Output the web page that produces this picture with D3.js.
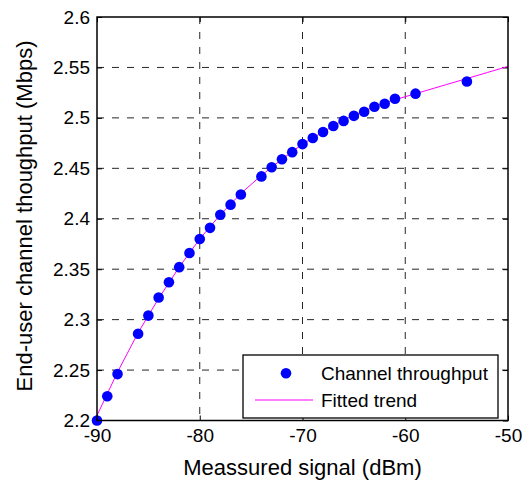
<!DOCTYPE html>
<html>
<head>
<meta charset="utf-8">
<script src="https://cdn.jsdelivr.net/npm/d3@7/dist/d3.min.js"></script>
<style>
  html, body { margin: 0; padding: 0; background: #fff; }
  svg { display: block; font-family: "Liberation Sans", Arial, sans-serif; }
</style>
</head>
<body>
<svg id="chart" width="526" height="485"></svg>
<script>
// Measured throughput per signal level
const signalDbm = [-90, -89, -88, -86, -85, -84, -83, -82, -81, -80,
                   -79, -78, -77, -76, -74, -73, -72, -71, -70, -69,
                   -68, -67, -66, -65, -64, -63, -62, -61, -59, -54];
const throughputMbps = [2.200, 2.224, 2.246, 2.286, 2.304, 2.322, 2.337, 2.352, 2.366, 2.380,
                        2.391, 2.404, 2.414, 2.424, 2.442, 2.451, 2.459, 2.466, 2.474, 2.480,
                        2.486, 2.492, 2.497, 2.502, 2.506, 2.511, 2.514, 2.519, 2.524, 2.536];

// Fitted trend curve samples
const fitDbm = [-90, -88, -86, -84, -82, -80, -78, -76, -74, -72, -70,
                -68, -66, -64, -62, -60, -58, -56, -54, -52, -50];
const fitMbps = [2.205, 2.248, 2.287, 2.321, 2.352, 2.380, 2.404, 2.425, 2.443, 2.459, 2.474,
                 2.486, 2.498, 2.507, 2.515, 2.521, 2.527, 2.533, 2.539, 2.545, 2.551];

const xTicks = [-90, -80, -70, -60, -50];
const yTicks = [2.2, 2.25, 2.3, 2.35, 2.4, 2.45, 2.5, 2.55, 2.6];
const legendLabels = ["Channel throughput", "Fitted trend"];

const svg = d3.select("#chart");
const plotL = 97, plotR = 508, plotT = 17, plotB = 420.5;

const x = d3.scaleLinear().domain([-90, -50]).range([plotL, plotR]);
const y = d3.scaleLinear().domain([2.2, 2.6]).range([plotB, plotT]);

// dashed grid
const grid = svg.append("g").attr("stroke", "#262626").attr("stroke-width", 1)
  .attr("stroke-dasharray", "7,8").attr("fill", "none");
grid.selectAll("line.v").data(xTicks.slice(1, -1)).join("line").attr("class", "v")
  .attr("x1", d => x(d)).attr("x2", d => x(d)).attr("y1", plotT).attr("y2", plotB);
grid.selectAll("line.h").data(yTicks.slice(1, -1)).join("line").attr("class", "h")
  .attr("x1", plotL).attr("x2", plotR).attr("y1", d => y(d)).attr("y2", d => y(d));

// axes with inward ticks and labels
const fmtY = d => String(+d.toFixed(2));
const yAxis = d3.axisLeft(y).tickValues(yTicks).tickSize(-5).tickPadding(12).tickFormat(fmtY);
const xAxis = d3.axisBottom(x).tickValues(xTicks).tickSize(-5).tickPadding(12).tickFormat(d => d);
const yAxisR = d3.axisRight(y).tickValues(yTicks).tickSize(-5).tickFormat("");
const xAxisT = d3.axisTop(x).tickValues(xTicks).tickSize(-5).tickFormat("");

function styleAxis(g) {
  g.select(".domain").remove();
  g.selectAll(".tick line").attr("stroke", "#000").attr("stroke-width", 1);
  g.selectAll(".tick text").attr("fill", "#000").style("font-size", "19px")
    .style("font-family", "'Liberation Sans', Arial, sans-serif");
}
svg.append("g").attr("transform", `translate(${plotL},0)`).call(yAxis).call(styleAxis)
  .selectAll(".tick text").attr("x", -7);
svg.append("g").attr("transform", `translate(0,${plotB})`).call(xAxis).call(styleAxis)
  .selectAll(".tick text").attr("dy", "0.71em").attr("y", 8);
svg.append("g").attr("transform", `translate(${plotR},0)`).call(yAxisR).call(styleAxis);
svg.append("g").attr("transform", `translate(0,${plotT})`).call(xAxisT).call(styleAxis);

// fitted trend
const line = d3.line().x((d, i) => x(fitDbm[i])).y(d => y(d));
svg.append("path").datum(fitMbps).attr("d", line)
  .attr("fill", "none").attr("stroke", "#ff00ff").attr("stroke-width", 1);

// measured points
svg.append("g").selectAll("circle").data(throughputMbps).join("circle")
  .attr("cx", (d, i) => x(signalDbm[i])).attr("cy", d => y(d))
  .attr("r", 5.3).attr("fill", "#0000ff");

// frame
svg.append("rect").attr("x", plotL).attr("y", plotT)
  .attr("width", plotR - plotL).attr("height", plotB - plotT)
  .attr("fill", "none").attr("stroke", "#000").attr("stroke-width", 1.5);

// axis titles
svg.append("text").attr("x", (plotL + plotR) / 2).attr("y", 475)
  .attr("text-anchor", "middle").style("font-size", "22px").attr("fill", "#000")
  .text("Meassured signal (dBm)");
svg.append("text").attr("transform", "translate(32,216) rotate(-90)")
  .attr("text-anchor", "middle").style("font-size", "22px").attr("fill", "#000")
  .text("End-user channel thoughput (Mbps)");

// legend
const lg = svg.append("g");
lg.append("rect").attr("x", 243).attr("y", 355).attr("width", 255).attr("height", 63)
  .attr("fill", "#fff").attr("stroke", "#000").attr("stroke-width", 1.3);
lg.append("circle").attr("cx", 286).attr("cy", 373.3).attr("r", 5.3).attr("fill", "#0000ff");
lg.append("line").attr("x1", 255).attr("x2", 313).attr("y1", 400).attr("y2", 400)
  .attr("stroke", "#ff00ff").attr("stroke-width", 1);
lg.selectAll("text").data(legendLabels).join("text")
  .attr("x", 321).attr("y", (d, i) => 380 + i * 27)
  .style("font-size", "19px").attr("fill", "#000").text(d => d);
</script>
</body>
</html>
